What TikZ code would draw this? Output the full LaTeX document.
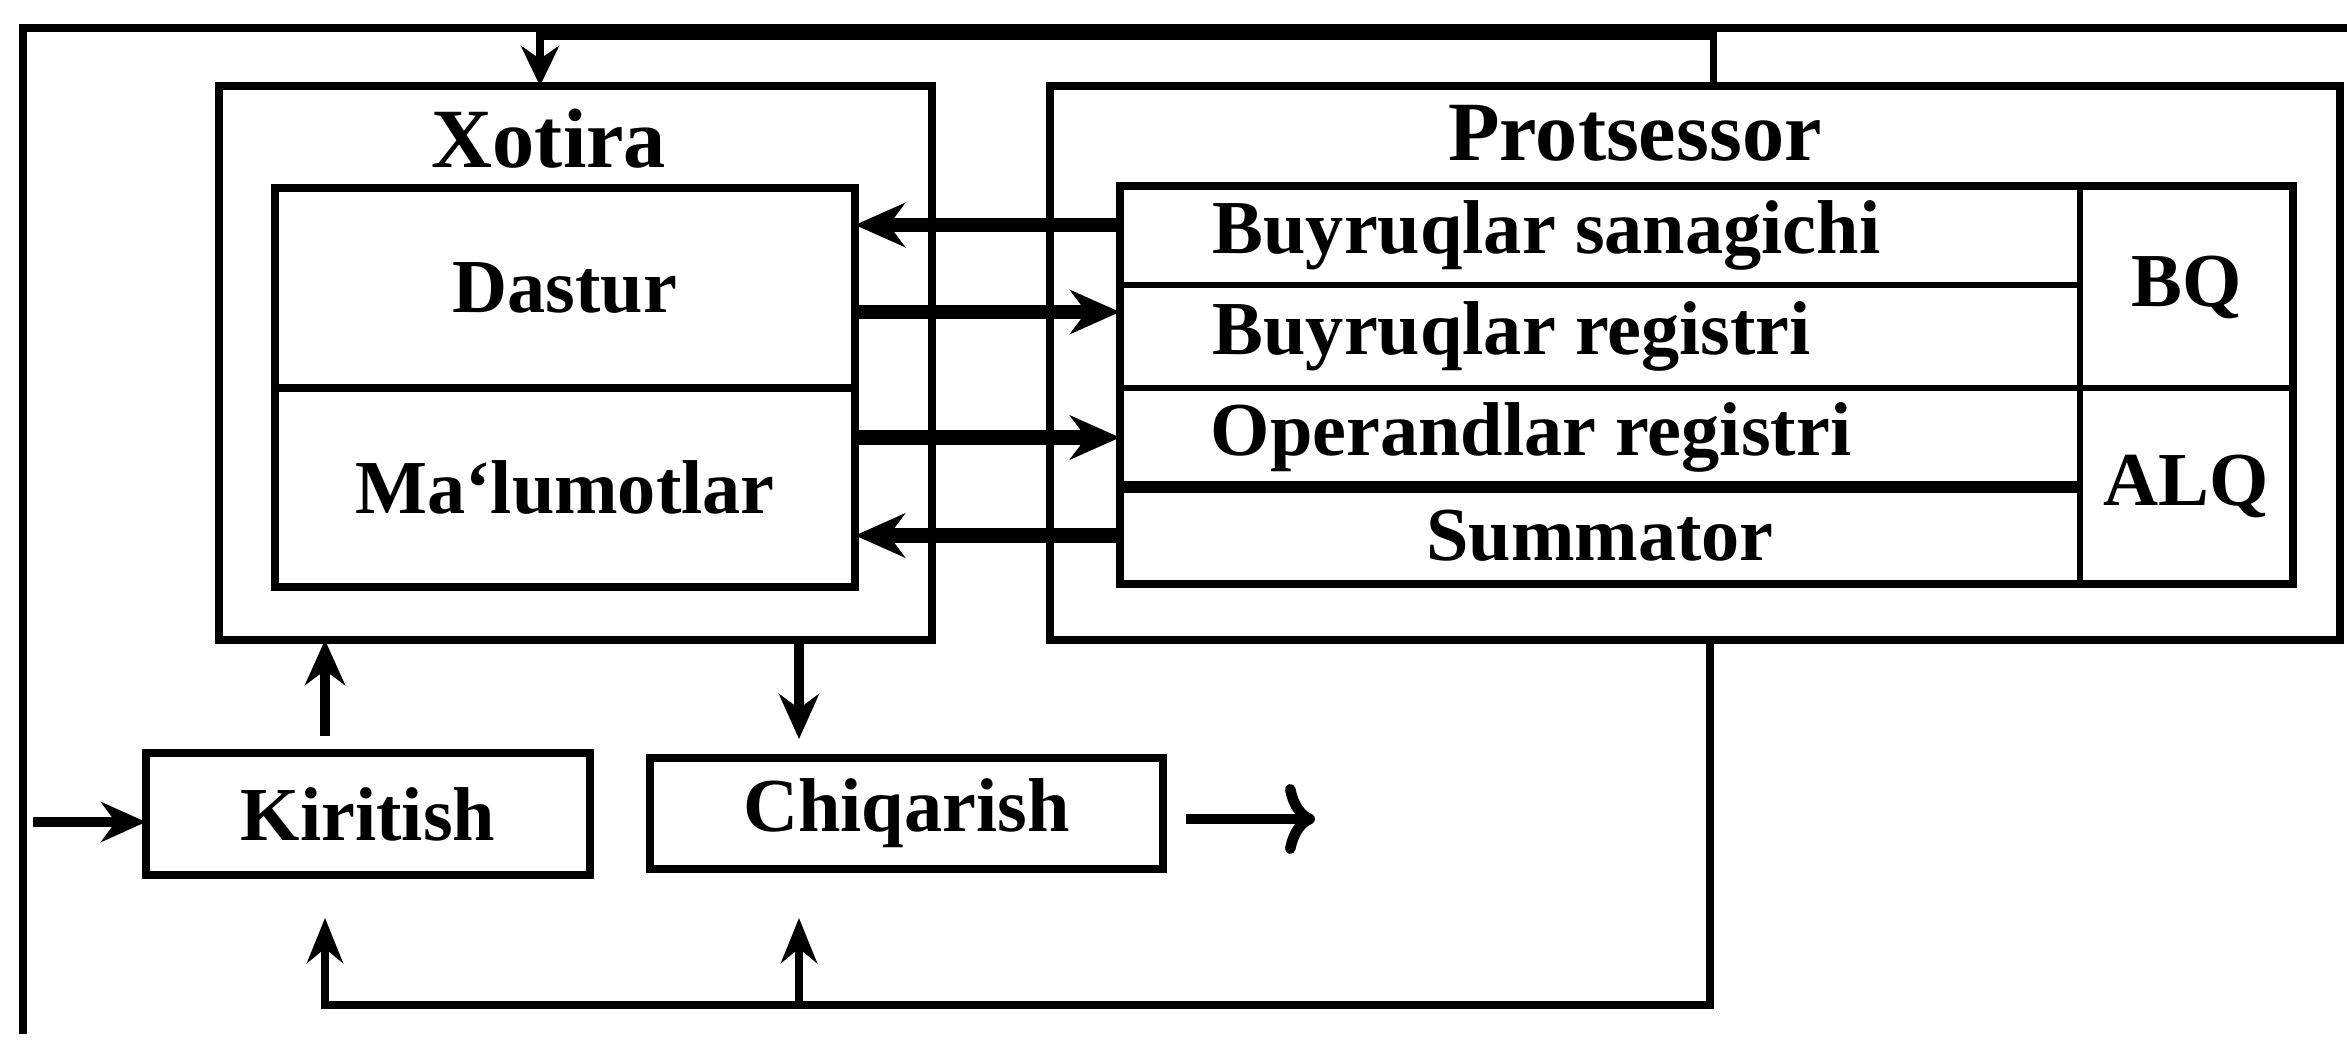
\documentclass[tikz,border=0pt]{standalone}
\usepackage{fontspec}
\setmainfont{Liberation Serif}
\usetikzlibrary{arrows.meta}

\begin{document}
\begin{tikzpicture}[x=1cm,y=1cm,
  unit/.style={draw, line width=2.2pt, inner sep=0pt, outer sep=0pt, font=\fontsize{21.7}{25}\selectfont\bfseries},
  reg/.style={draw, line width=1.6pt, inner sep=0pt, outer sep=0pt, minimum width=9.60cm, font=\fontsize{21.7}{25}\selectfont\bfseries},
  regtext/.style={anchor=west, inner sep=0pt, font=\fontsize{21.7}{25}\selectfont\bfseries},
  title/.style={inner sep=0pt, font=\fontsize{24}{29}\selectfont\bfseries},
  bus/.style={line width=4pt, -{Stealth[length=5mm,width=4.4mm]}},
  io/.style={line width=3pt, -{Stealth[length=4.5mm,width=4mm]}},
  link/.style={line width=2pt}]
\useasboundingbox (0,0) rectangle (23.47,-10.40);

% outer frame
\draw[link] (0.23,-10.34) -- (0.23,-0.28) -- (23.47,-0.28);

% memory
\node[unit, minimum width=7.13cm, minimum height=5.54cm] (xotira) at (5.755,-3.63) {};
\node[title] (xotiraT) at (5.49,-1.39) {Xotira};
\node[unit, minimum width=5.80cm, minimum height=2.00cm] (dastur) at (5.65,-2.88) {Dastur};
\node[unit, minimum width=5.80cm, minimum height=1.99cm] (malumot) at (5.65,-4.875) {Ma‘lumotlar};

% processor
\node[unit, minimum width=12.90cm, minimum height=5.54cm] (protsessor) at (16.95,-3.63) {};
\node[title] (protsessorT) at (16.35,-1.33) {Protsessor};
\node[reg, minimum height=0.99cm] (bs) at (16.00,-2.355) {};
\node[reg, minimum height=1.03cm] (br) at (16.00,-3.365) {};
\node[reg, minimum height=0.99cm] (opr) at (16.00,-4.375) {};
\node[reg, minimum height=0.97cm] (sm) at (16.00,-5.355) {Summator};
\node[reg, minimum width=2.13cm, minimum height=2.02cm] (bq) at (21.865,-2.87) {BQ};
\node[reg, minimum width=2.13cm, minimum height=1.96cm] (alq) at (21.865,-4.86) {ALQ};
\node[regtext] (bsT) at ([xshift=9.2mm]bs.west) {Buyruqlar sanagichi};
\node[regtext] (brT) at ([xshift=9.2mm]br.west) {Buyruqlar registri};
\node[regtext] (oprT) at ([xshift=9.0mm]opr.west) {Operandlar registri};
\draw[line width=2.2pt] (bs.north west) rectangle (alq.south east);
\draw[line width=3.4pt] (opr.south west) -- (opr.south east);

% input / output
\node[unit, minimum width=4.44cm, minimum height=1.22cm] (kir) at (3.68,-8.14) {Kiritish};
\node[unit, minimum width=5.13cm, minimum height=1.11cm] (chiq) at (9.065,-8.135) {Chiqarish};

% data paths
\coordinate (p1) at ([yshift=1.05mm]bs.west);
\coordinate (p2) at ([yshift=2.45mm]br.west);
\draw[bus] (p1) -- (p1 -| dastur.east);
\draw[bus] (p2 -| dastur.east) -- (p2);
\draw[bus] (opr.west -| malumot.east) -- (opr.west);
\draw[bus] (sm.west) -- (sm.west -| malumot.east);

\coordinate (kin) at (3.25,-7.36);
\coordinate (cout) at (7.99,-7.39);
\draw[io] (kin) -- (kin |- xotira.south);
\draw[io] (cout |- xotira.south) -- (cout);

\coordinate (inp) at (0.33,-8.22);
\draw[io] (inp) -- (inp -| kir.west);
\coordinate (ostart) at (11.86,-8.19);
\coordinate (outp) at (13.15,-8.19);
\draw[line width=3pt, -{Computer Modern Rightarrow[length=3mm,width=7mm]}] (ostart) -- (outp);

% control feedback
\coordinate (ftop) at (17.13,-0.36);
\coordinate (fmem) at (5.40,-0.36);
\draw[link, -{Stealth[length=4mm,width=3.8mm]}] (ftop |- protsessor.north) -- (ftop) -- (fmem) -- (fmem |- xotira.north);
\coordinate (fbot) at (17.10,-10.05);
\coordinate (kbot) at (3.25,-9.18);
\coordinate (cbot) at (7.99,-9.18);
\draw[link, line width=2.4pt, -{Stealth[length=4.5mm,width=3.6mm]}] (fbot |- protsessor.south) -- (fbot) -- (kbot |- fbot) -- (kbot);
\draw[link, line width=2.4pt, -{Stealth[length=4.5mm,width=3.6mm]}] (cbot |- fbot) -- (cbot);
\end{tikzpicture}
\end{document}
